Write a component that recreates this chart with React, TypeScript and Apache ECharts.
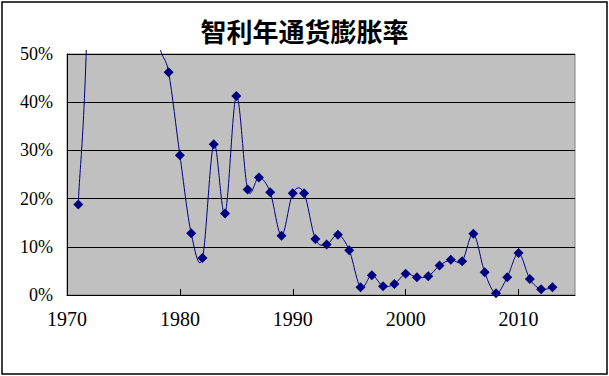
import React, { useEffect, useRef } from "react";
import * as echarts from "echarts";

const titleText = "智利年通货膨胀率";
const years = [
  1971, 1972, 1973, 1974, 1975, 1976, 1977, 1978, 1979, 1980, 1981, 1982, 1983,
  1984, 1985, 1986, 1987, 1988, 1989, 1990, 1991, 1992, 1993, 1994, 1995, 1996,
  1997, 1998, 1999, 2000, 2001, 2002, 2003, 2004, 2005, 2006, 2007, 2008, 2009,
  2010, 2011, 2012, 2013,
];
// inflation, percent (1972-1978 lie above the 50% top of the plot)
const inflation = [
  18.8, 80, 300, 500, 350, 200, 90, 55, 46.2, 29.0, 12.8, 7.7, 31.3, 16.9, 41.3,
  21.9, 24.4, 21.3, 12.3, 21.1, 21.1, 11.6, 10.5, 12.5, 9.3, 1.6, 4.1, 1.8, 2.3,
  4.4, 3.7, 3.9, 6.1, 7.3, 7.0, 12.7, 4.7, 0.35, 3.7, 8.7, 3.3, 1.2, 1.6,
];
const xTickLabels = [1970, 1980, 1990, 2000, 2010];
const yTicks = [0, 10, 20, 30, 40, 50];

export default function App() {
  const ref = useRef<HTMLDivElement>(null);
  useEffect(() => {
    if (!ref.current) return;
    const chart = echarts.init(ref.current, null, { renderer: "svg" });
    const serif = "'Liberation Serif', 'Times New Roman', serif";
    const points = years.map((y, i) => [y, inflation[i]]);

    const renderCurve = (params: any, api: any) => {
      const p = points.map((d) => api.coord(d) as number[]);
      const n = p.length;
      let d = `M${p[0][0]},${p[0][1]}`;
      for (let i = 0; i < n - 1; i++) {
        const p0 = p[Math.max(0, i - 1)];
        const p1 = p[i];
        const p2 = p[i + 1];
        const p3 = p[Math.min(n - 1, i + 2)];
        const c1x = p1[0] + (p2[0] - p0[0]) / 6;
        const c1y = p1[1] + (p2[1] - p0[1]) / 6;
        const c2x = p2[0] - (p3[0] - p1[0]) / 6;
        const c2y = p2[1] - (p3[1] - p1[1]) / 6;
        d += ` C${c1x},${c1y} ${c2x},${c2y} ${p2[0]},${p2[1]}`;
      }
      const cs = params.coordSys;
      return {
        type: "path",
        shape: { pathData: d },
        style: { fill: "none", stroke: "#000080", lineWidth: 1 },
        clipPath: {
          type: "rect",
          shape: { x: cs.x, y: cs.y - 4, width: cs.width, height: cs.height + 4 },
        },
      };
    };

    chart.setOption({
      animation: false,
      backgroundColor: "#ffffff",
      title: {
        text: titleText,
        left: "center",
        top: 17,
        padding: 0,
        textStyle: {
          fontFamily: "'Noto Sans CJK SC', sans-serif",
          fontSize: 26,
          fontWeight: "bold",
          color: "#000000",
        },
      },
      graphic: [
        {
          type: "rect",
          shape: { x: 2, y: 2, width: 605, height: 372 },
          style: { fill: "none", stroke: "#000000", lineWidth: 1.5 },
          silent: true,
          z: 100,
        },
      ],
      grid: {
        left: 67,
        right: 34,
        top: 54,
        bottom: 81,
        show: true,
        backgroundColor: "#C0C0C0",
        borderColor: "#808080",
        borderWidth: 1,
      },
      xAxis: {
        type: "value",
        min: 1970,
        max: 2015,
        interval: 10,
        axisLine: { show: true, onZero: false, lineStyle: { color: "#000000", width: 1 } },
        axisTick: {
          show: true,
          inside: true,
          length: 6,
          customValues: xTickLabels,
          lineStyle: { color: "#000000" },
        },
        axisLabel: {
          customValues: xTickLabels,
          margin: 14,
          fontFamily: serif,
          fontSize: 20,
          color: "#000000",
          formatter: (v: number) => String(v),
        },
        splitLine: { show: false },
      },
      yAxis: {
        type: "value",
        min: 0,
        max: 50,
        interval: 10,
        axisLine: { show: true, lineStyle: { color: "#000000", width: 1 } },
        axisTick: {
          show: true,
          inside: true,
          length: 7,
          customValues: yTicks,
          lineStyle: { color: "#000000" },
        },
        axisLabel: {
          customValues: yTicks,
          margin: 14,
          fontFamily: serif,
          fontSize: 18,
          color: "#000000",
          formatter: (v: number) => v + "%",
        },
        splitLine: { show: true, lineStyle: { color: "#000000", width: 1 } },
      },
      series: [
        {
          type: "custom",
          data: [[1970, 0]],
          renderItem: renderCurve,
          silent: true,
          z: 2,
        },
        {
          type: "scatter",
          data: points,
          symbol: "diamond",
          symbolSize: 10,
          clip: true,
          itemStyle: { color: "#000080", opacity: 1 },
          z: 3,
        },
      ],
    });
    return () => chart.dispose();
  }, []);
  return (
    <div
      ref={ref}
      style={{ position: "fixed", left: 0, top: 0, width: 609, height: 376 }}
    />
  );
}
